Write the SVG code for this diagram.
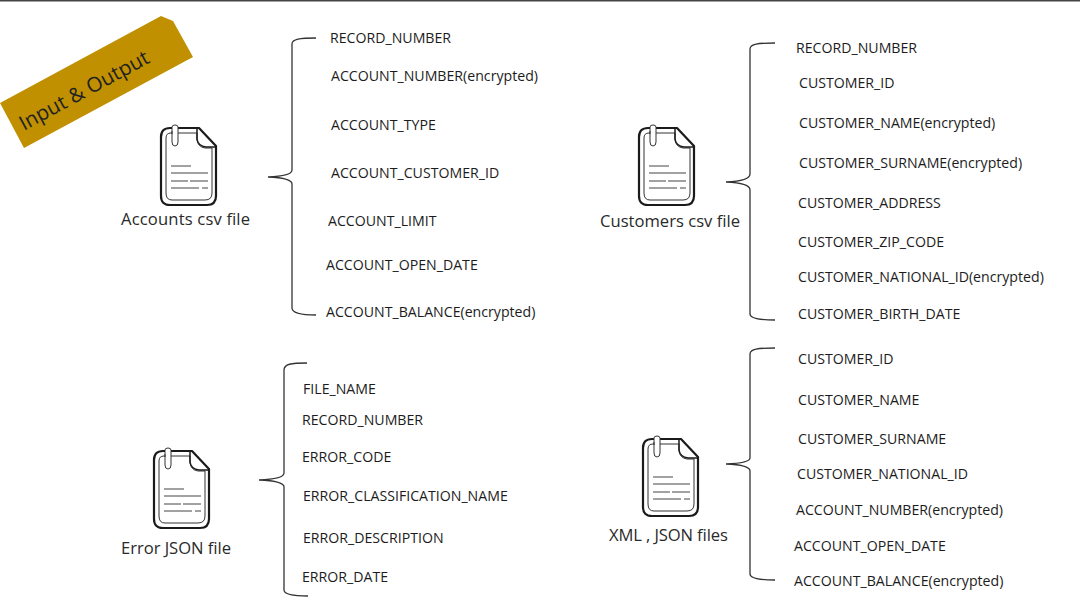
<svg xmlns="http://www.w3.org/2000/svg" xmlns:xlink="http://www.w3.org/1999/xlink" width="1080" height="610" viewBox="0 0 1080 610">
<style>
.f{font-family:"Open Sans","Liberation Sans",Arial,sans-serif;font-size:14.15px;fill:#1c1c1c}
.t{font-family:"Open Sans","Liberation Sans",Arial,sans-serif;font-size:16.6px;fill:#2a2a2a}
.b{fill:none;stroke:#333;stroke-width:1.3}
.o{fill:none;stroke:#1a1a1a;stroke-width:2.2;stroke-linejoin:round}
.i{fill:none;stroke:#333;stroke-width:1}
.l{fill:none;stroke:#444;stroke-width:1}
</style>
<defs>
<g id="doc">
<path class="o" d="M9 0H38L55 18V68Q55 77 46 77H9Q0 77 0 68V9Q0 0 9 0Z"/>
<path class="i" d="M10 5H36V12Q37 19 44 20H51V65Q51 72 44 72H11Q5 72 5 65V10Q5 5 10 5Z"/>
<path class="o" d="M36 1V11Q37 18 45 19H54" style="stroke-width:1.500"/>
<path class="i" d="M11 6V-1Q11 -3 14 -3Q17 -3 17 -1V14Q17 18 14 18Q11 18 11 14V3" style="fill:#fff"/>
<path class="l" d="M10 38H30M10 45H47M10 53H27M29 53H47M10 60H38M41 60H47"/>
</g>
</defs>
<rect width="1080" height="610" fill="#fff"/>
<rect width="1080" height="1.500" fill="#444"/>
<g id="badge">
<polygon points="0,103 161,16 173,21 193,57 24,148" fill="#c09000"/>
<text transform="translate(24 131) rotate(-28.500)" font-family="'Open Sans','Liberation Sans',Arial,sans-serif" font-size="20.500" fill="#222">Input &amp; Output</text>
</g>
<g id="connectors">
<path class="b" d="M316 38C300 38 292 39 292 44V170Q292 176 268 177Q292 178 292 184V308Q292 315 316 315"/>
<path class="b" d="M775 43C758 43 750 44 750 49V174Q750 181 726 182Q750 183 750 190V314Q750 320 775 320"/>
<path class="b" d="M307 363C291 363 284 364 284 370V473Q284 479 259 480Q284 481 284 487V590Q284 596 308 596"/>
<path class="b" d="M775 348C758 348 750 349 750 354V458Q750 463 726 464Q750 465 750 471V574Q750 580 775 580"/>
</g>
<g id="accounts">
<use xlink:href="#doc" href="#doc" x="161" y="128"/>
<text class="t" x="121" y="225" textLength="129">Accounts csv file</text>
<text class="f" x="330" y="43">RECORD_NUMBER</text>
<text class="f" x="331" y="81">ACCOUNT_NUMBER(encrypted)</text>
<text class="f" x="331" y="130">ACCOUNT_TYPE</text>
<text class="f" x="331" y="178">ACCOUNT_CUSTOMER_ID</text>
<text class="f" x="328" y="226">ACCOUNT_LIMIT</text>
<text class="f" x="326" y="270">ACCOUNT_OPEN_DATE</text>
<text class="f" x="326" y="317">ACCOUNT_BALANCE(encrypted)</text>
</g>
<g id="customers">
<use xlink:href="#doc" href="#doc" x="639" y="128"/>
<text class="t" x="600" y="227" textLength="140">Customers csv file</text>
<text class="f" x="796" y="53">RECORD_NUMBER</text>
<text class="f" x="799" y="88">CUSTOMER_ID</text>
<text class="f" x="799" y="128">CUSTOMER_NAME(encrypted)</text>
<text class="f" x="799" y="168">CUSTOMER_SURNAME(encrypted)</text>
<text class="f" x="798" y="208">CUSTOMER_ADDRESS</text>
<text class="f" x="798" y="247">CUSTOMER_ZIP_CODE</text>
<text class="f" x="798" y="282">CUSTOMER_NATIONAL_ID(encrypted)</text>
<text class="f" x="798" y="319">CUSTOMER_BIRTH_DATE</text>
</g>
<g id="error">
<use xlink:href="#doc" href="#doc" x="154" y="451"/>
<text class="t" x="121" y="554" textLength="110">Error JSON file</text>
<text class="f" x="303" y="394">FILE_NAME</text>
<text class="f" x="302" y="425">RECORD_NUMBER</text>
<text class="f" x="302" y="462">ERROR_CODE</text>
<text class="f" x="303" y="501">ERROR_CLASSIFICATION_NAME</text>
<text class="f" x="303" y="543">ERROR_DESCRIPTION</text>
<text class="f" x="302" y="582">ERROR_DATE</text>
</g>
<g id="xml">
<use xlink:href="#doc" href="#doc" x="643" y="439"/>
<text class="t" x="609" y="541" textLength="119">XML , JSON files</text>
<text class="f" x="798" y="364">CUSTOMER_ID</text>
<text class="f" x="798" y="405">CUSTOMER_NAME</text>
<text class="f" x="798" y="444">CUSTOMER_SURNAME</text>
<text class="f" x="797" y="479">CUSTOMER_NATIONAL_ID</text>
<text class="f" x="796" y="515">ACCOUNT_NUMBER(encrypted)</text>
<text class="f" x="794" y="551">ACCOUNT_OPEN_DATE</text>
<text class="f" x="794" y="586">ACCOUNT_BALANCE(encrypted)</text>
</g>
</svg>
